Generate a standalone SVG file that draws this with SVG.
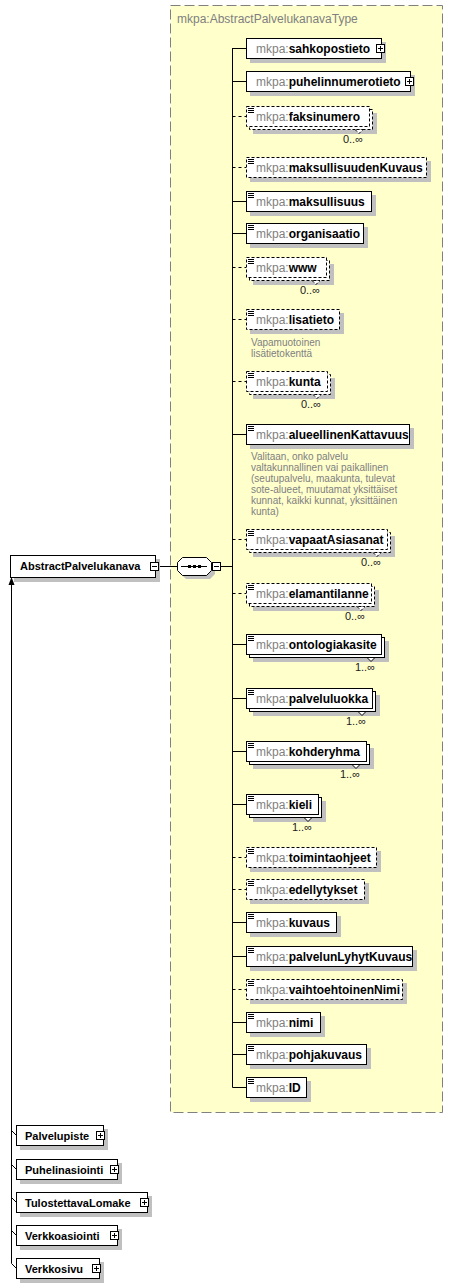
<svg xmlns="http://www.w3.org/2000/svg" xmlns:xlink="http://www.w3.org/1999/xlink" width="453" height="1288" viewBox="0 0 453 1288">
<style>
.bx{fill:#fff;stroke:#000;stroke-width:1}
.op{stroke-dasharray:3,2}
.sh{fill:#c0c0c0}
.t{font-family:"Liberation Sans",Arial,sans-serif;font-size:12px}
.ns{fill:#808080}
.nm{font-weight:bold;fill:#000}
.g{font-family:"Liberation Sans",Arial,sans-serif;font-size:11px;font-weight:bold;fill:#000}
.m{font-family:"Liberation Sans",Arial,sans-serif;font-size:11px;fill:#202020;text-anchor:end}
.an{font-family:"Liberation Sans",Arial,sans-serif;font-size:10px;fill:#808080}
.ln{stroke:#000;stroke-width:1;fill:none}
.dl{stroke:#000;stroke-width:1;fill:none;stroke-dasharray:3,3}
</style>
<defs>
<g id="plus"><rect x="0.5" y="0.5" width="8" height="8" fill="#fff" stroke="#000"/><path d="M2,4.5h5M4.5,2v5" stroke="#000"/></g>
<g id="minus"><rect x="0.5" y="0.5" width="8" height="8" fill="#fff" stroke="#000"/><path d="M2,4.5h5" stroke="#000"/></g>
<path id="ic" d="M0,0.5h6M0,2.5h6M0,4.5h6" stroke="#000" stroke-width="1" fill="none"/>
</defs>

<g id="type">
<rect x="170.5" y="5.5" width="272" height="1107" fill="#ffffcc" stroke="#808080" stroke-dasharray="10,4"/>
<text class="t ns" x="177" y="23">mkpa:AbstractPalvelukanavaType</text>
</g>

<g id="connectors">
<path class="ln" d="M232.5,48V1087.5H246"/>
<path class="ln" d="M232.5,48.5H246M232.5,81.5H246M232.5,201.5H246M232.5,233.5H246M232.5,434.5H246M232.5,644.5H246M232.5,698.5H246M232.5,751.5H246M232.5,804.5H246M232.5,922.5H246M232.5,956.5H246M232.5,1022.5H246M232.5,1054.5H246"/>
<path class="dl" d="M232.5,116.5H246M232.5,167.5H246M232.5,267.5H246M232.5,319.5H246M232.5,381.5H246M232.5,539.5H246M232.5,593.5H246M232.5,857.5H246M232.5,889.5H246M232.5,989.5H246"/>
<path class="ln" d="M159,566.5H177M221,566.5H232.5"/>
<path class="ln" d="M11.5,584V1263.5L16,1268"/>
<polygon points="11.5,577 8.5,585 14.5,585" fill="#000"/>
<path class="ln" d="M11.5,1130.5L16,1135M11.5,1164.5L16,1169M11.5,1197.5L16,1202M11.5,1230.5L16,1235"/>
</g>

<g id="AbstractPalvelukanava">
<rect class="sh" x="14" y="559" width="146" height="23"/>
<rect class="bx" x="10.5" y="555.5" width="145" height="22"/>
<text class="g" x="20" y="570">AbstractPalvelukanava</text>
<use xlink:href="#minus" x="150" y="562"/>
</g>

<g id="sequence">
<polygon class="sh" points="186,561 210,561 215,566 215,574 210,579 186,579 181,574 181,566"/>
<polygon class="bx" points="182.5,557.5 206.5,557.5 211.5,562.5 211.5,570.5 206.5,575.5 182.5,575.5 177.5,570.5 177.5,562.5"/>
<path d="M181,566.5H207" stroke="#000"/>
<rect x="188" y="565" width="3" height="3" fill="#000"/>
<rect x="193" y="565" width="3" height="3" fill="#000"/>
<rect x="198" y="565" width="3" height="3" fill="#000"/>
<use xlink:href="#minus" x="212" y="562"/>
</g>

<g id="sahkopostieto">
<rect class="sh" x="250" y="42" width="136" height="21"/>
<rect class="bx" x="246.5" y="38.5" width="135" height="20"/>
<text class="t" x="256" y="53"><tspan class="ns">mkpa:</tspan><tspan class="nm">sahkopostieto</tspan></text>
<use xlink:href="#plus" x="376" y="44"/>
</g>

<g id="puhelinnumerotieto">
<rect class="sh" x="250" y="75" width="165" height="21"/>
<rect class="bx" x="246.5" y="71.5" width="164" height="20"/>
<text class="t" x="256" y="86"><tspan class="ns">mkpa:</tspan><tspan class="nm">puhelinnumerotieto</tspan></text>
<use xlink:href="#plus" x="405" y="77"/>
</g>

<g id="faksinumero">
<rect class="sh" x="253" y="113" width="124" height="21"/>
<rect class="bx op" x="249.5" y="109.5" width="123" height="20"/>
<rect class="bx op" x="246.5" y="106.5" width="123" height="20"/>
<use xlink:href="#ic" x="248" y="108"/>
<text class="t" x="256" y="121"><tspan class="ns">mkpa:</tspan><tspan class="nm">faksinumero</tspan></text>
<polygon class="bx op" points="355,129.5 359,133.5 363,129.5"/>
<text class="m" x="363" y="143">0..∞</text>
</g>

<g id="maksullisuudenKuvaus">
<rect class="sh" x="250" y="161" width="181" height="21"/>
<rect class="bx op" x="246.5" y="157.5" width="180" height="20"/>
<use xlink:href="#ic" x="248" y="159"/>
<text class="t" x="256" y="172"><tspan class="ns">mkpa:</tspan><tspan class="nm">maksullisuudenKuvaus</tspan></text>
</g>

<g id="maksullisuus">
<rect class="sh" x="250" y="195" width="126" height="21"/>
<rect class="bx" x="246.5" y="191.5" width="125" height="20"/>
<use xlink:href="#ic" x="248" y="193"/>
<text class="t" x="256" y="206"><tspan class="ns">mkpa:</tspan><tspan class="nm">maksullisuus</tspan></text>
</g>

<g id="organisaatio">
<rect class="sh" x="250" y="227" width="118" height="21"/>
<rect class="bx" x="246.5" y="223.5" width="117" height="20"/>
<use xlink:href="#ic" x="248" y="225"/>
<text class="t" x="256" y="238"><tspan class="ns">mkpa:</tspan><tspan class="nm">organisaatio</tspan></text>
</g>

<g id="www">
<rect class="sh" x="253" y="264" width="81" height="21"/>
<rect class="bx op" x="249.5" y="260.5" width="80" height="20"/>
<rect class="bx op" x="246.5" y="257.5" width="80" height="20"/>
<use xlink:href="#ic" x="248" y="259"/>
<text class="t" x="256" y="272"><tspan class="ns">mkpa:</tspan><tspan class="nm">www</tspan></text>
<polygon class="bx op" points="312,280.5 316,284.5 320,280.5"/>
<text class="m" x="320" y="294">0..∞</text>
</g>

<g id="lisatieto">
<rect class="sh" x="250" y="313" width="94" height="21"/>
<rect class="bx op" x="246.5" y="309.5" width="93" height="20"/>
<use xlink:href="#ic" x="248" y="311"/>
<text class="t" x="256" y="324"><tspan class="ns">mkpa:</tspan><tspan class="nm">lisatieto</tspan></text>
<text class="an" x="251" y="346">Vapamuotoinen</text>
<text class="an" x="251" y="357">lisätietokenttä</text>
</g>

<g id="kunta">
<rect class="sh" x="253" y="378" width="82" height="21"/>
<rect class="bx op" x="249.5" y="374.5" width="81" height="20"/>
<rect class="bx op" x="246.5" y="371.5" width="81" height="20"/>
<use xlink:href="#ic" x="248" y="373"/>
<text class="t" x="256" y="386"><tspan class="ns">mkpa:</tspan><tspan class="nm">kunta</tspan></text>
<polygon class="bx op" points="313,394.5 317,398.5 321,394.5"/>
<text class="m" x="321" y="408">0..∞</text>
</g>

<g id="alueellinenKattavuus">
<rect class="sh" x="250" y="428" width="164" height="21"/>
<rect class="bx" x="246.5" y="424.5" width="163" height="20"/>
<use xlink:href="#ic" x="248" y="426"/>
<text class="t" x="256" y="439"><tspan class="ns">mkpa:</tspan><tspan class="nm">alueellinenKattavuus</tspan></text>
<text class="an" x="251" y="460">Valitaan, onko palvelu</text>
<text class="an" x="251" y="471">valtakunnallinen vai paikallinen</text>
<text class="an" x="251" y="482">(seutupalvelu, maakunta, tulevat</text>
<text class="an" x="251" y="493">sote-alueet, muutamat yksittäiset</text>
<text class="an" x="251" y="504">kunnat, kaikki kunnat, yksittäinen</text>
<text class="an" x="251" y="515">kunta)</text>
</g>

<g id="vapaatAsiasanat">
<rect class="sh" x="253" y="536" width="142" height="21"/>
<rect class="bx op" x="249.5" y="532.5" width="141" height="20"/>
<rect class="bx op" x="246.5" y="529.5" width="141" height="20"/>
<use xlink:href="#ic" x="248" y="531"/>
<text class="t" x="256" y="544"><tspan class="ns">mkpa:</tspan><tspan class="nm">vapaatAsiasanat</tspan></text>
<polygon class="bx op" points="373,552.5 377,556.5 381,552.5"/>
<text class="m" x="381" y="566">0..∞</text>
</g>

<g id="elamantilanne">
<rect class="sh" x="253" y="590" width="126" height="21"/>
<rect class="bx op" x="249.5" y="586.5" width="125" height="20"/>
<rect class="bx op" x="246.5" y="583.5" width="125" height="20"/>
<use xlink:href="#ic" x="248" y="585"/>
<text class="t" x="256" y="598"><tspan class="ns">mkpa:</tspan><tspan class="nm">elamantilanne</tspan></text>
<polygon class="bx op" points="357,606.5 361,610.5 365,606.5"/>
<text class="m" x="365" y="620">0..∞</text>
</g>

<g id="ontologiakasite">
<rect class="sh" x="253" y="641" width="136" height="21"/>
<rect class="bx" x="249.5" y="637.5" width="135" height="20"/>
<rect class="bx" x="246.5" y="634.5" width="135" height="20"/>
<use xlink:href="#ic" x="248" y="636"/>
<text class="t" x="256" y="649"><tspan class="ns">mkpa:</tspan><tspan class="nm">ontologiakasite</tspan></text>
<polygon class="bx" points="367,657.5 371,661.5 375,657.5"/>
<text class="m" x="375" y="671">1..∞</text>
</g>

<g id="palveluluokka">
<rect class="sh" x="253" y="695" width="127" height="21"/>
<rect class="bx" x="249.5" y="691.5" width="126" height="20"/>
<rect class="bx" x="246.5" y="688.5" width="126" height="20"/>
<use xlink:href="#ic" x="248" y="690"/>
<text class="t" x="256" y="703"><tspan class="ns">mkpa:</tspan><tspan class="nm">palveluluokka</tspan></text>
<polygon class="bx" points="358,711.5 362,715.5 366,711.5"/>
<text class="m" x="366" y="725">1..∞</text>
</g>

<g id="kohderyhma">
<rect class="sh" x="253" y="748" width="121" height="21"/>
<rect class="bx" x="249.5" y="744.5" width="120" height="20"/>
<rect class="bx" x="246.5" y="741.5" width="120" height="20"/>
<use xlink:href="#ic" x="248" y="743"/>
<text class="t" x="256" y="756"><tspan class="ns">mkpa:</tspan><tspan class="nm">kohderyhma</tspan></text>
<polygon class="bx" points="352,764.5 356,768.5 360,764.5"/>
<text class="m" x="360" y="778">1..∞</text>
</g>

<g id="kieli">
<rect class="sh" x="253" y="801" width="73" height="21"/>
<rect class="bx" x="249.5" y="797.5" width="72" height="20"/>
<rect class="bx" x="246.5" y="794.5" width="72" height="20"/>
<use xlink:href="#ic" x="248" y="796"/>
<text class="t" x="256" y="809"><tspan class="ns">mkpa:</tspan><tspan class="nm">kieli</tspan></text>
<polygon class="bx" points="304,817.5 308,821.5 312,817.5"/>
<text class="m" x="312" y="831">1..∞</text>
</g>

<g id="toimintaohjeet">
<rect class="sh" x="250" y="851" width="131" height="21"/>
<rect class="bx op" x="246.5" y="847.5" width="130" height="20"/>
<use xlink:href="#ic" x="248" y="849"/>
<text class="t" x="256" y="862"><tspan class="ns">mkpa:</tspan><tspan class="nm">toimintaohjeet</tspan></text>
</g>

<g id="edellytykset">
<rect class="sh" x="250" y="883" width="119" height="21"/>
<rect class="bx op" x="246.5" y="879.5" width="118" height="20"/>
<use xlink:href="#ic" x="248" y="881"/>
<text class="t" x="256" y="894"><tspan class="ns">mkpa:</tspan><tspan class="nm">edellytykset</tspan></text>
</g>

<g id="kuvaus">
<rect class="sh" x="250" y="916" width="91" height="21"/>
<rect class="bx" x="246.5" y="912.5" width="90" height="20"/>
<use xlink:href="#ic" x="248" y="914"/>
<text class="t" x="256" y="927"><tspan class="ns">mkpa:</tspan><tspan class="nm">kuvaus</tspan></text>
</g>

<g id="palvelunLyhytKuvaus">
<rect class="sh" x="250" y="950" width="167" height="21"/>
<rect class="bx" x="246.5" y="946.5" width="166" height="20"/>
<use xlink:href="#ic" x="248" y="948"/>
<text class="t" x="256" y="961"><tspan class="ns">mkpa:</tspan><tspan class="nm">palvelunLyhytKuvaus</tspan></text>
</g>

<g id="vaihtoehtoinenNimi">
<rect class="sh" x="250" y="983" width="157" height="21"/>
<rect class="bx op" x="246.5" y="979.5" width="156" height="20"/>
<use xlink:href="#ic" x="248" y="981"/>
<text class="t" x="256" y="994"><tspan class="ns">mkpa:</tspan><tspan class="nm">vaihtoehtoinenNimi</tspan></text>
</g>

<g id="nimi">
<rect class="sh" x="250" y="1016" width="75" height="21"/>
<rect class="bx" x="246.5" y="1012.5" width="74" height="20"/>
<use xlink:href="#ic" x="248" y="1014"/>
<text class="t" x="256" y="1027"><tspan class="ns">mkpa:</tspan><tspan class="nm">nimi</tspan></text>
</g>

<g id="pohjakuvaus">
<rect class="sh" x="250" y="1048" width="121" height="21"/>
<rect class="bx" x="246.5" y="1044.5" width="120" height="20"/>
<use xlink:href="#ic" x="248" y="1046"/>
<text class="t" x="256" y="1059"><tspan class="ns">mkpa:</tspan><tspan class="nm">pohjakuvaus</tspan></text>
</g>

<g id="ID">
<rect class="sh" x="250" y="1081" width="61" height="21"/>
<rect class="bx" x="246.5" y="1077.5" width="60" height="20"/>
<use xlink:href="#ic" x="248" y="1079"/>
<text class="t" x="256" y="1092"><tspan class="ns">mkpa:</tspan><tspan class="nm">ID</tspan></text>
</g>

<g id="Palvelupiste">
<rect class="sh" x="20" y="1129" width="88" height="21"/>
<rect class="bx" x="16.5" y="1125.5" width="87" height="20"/>
<text class="g" x="25" y="1140">Palvelupiste</text>
<use xlink:href="#plus" x="96" y="1131"/>
</g>

<g id="Puhelinasiointi">
<rect class="sh" x="20" y="1163" width="102" height="21"/>
<rect class="bx" x="16.5" y="1159.5" width="101" height="20"/>
<text class="g" x="25" y="1174">Puhelinasiointi</text>
<use xlink:href="#plus" x="110" y="1165"/>
</g>

<g id="TulostettavaLomake">
<rect class="sh" x="20" y="1196" width="132" height="21"/>
<rect class="bx" x="16.5" y="1192.5" width="131" height="20"/>
<text class="g" x="25" y="1207">TulostettavaLomake</text>
<use xlink:href="#plus" x="140" y="1198"/>
</g>

<g id="Verkkoasiointi">
<rect class="sh" x="20" y="1229" width="102" height="21"/>
<rect class="bx" x="16.5" y="1225.5" width="101" height="20"/>
<text class="g" x="25" y="1240">Verkkoasiointi</text>
<use xlink:href="#plus" x="110" y="1231"/>
</g>

<g id="Verkkosivu">
<rect class="sh" x="20" y="1262" width="84" height="21"/>
<rect class="bx" x="16.5" y="1258.5" width="83" height="20"/>
<text class="g" x="25" y="1273">Verkkosivu</text>
<use xlink:href="#plus" x="92" y="1264"/>
</g>
</svg>
